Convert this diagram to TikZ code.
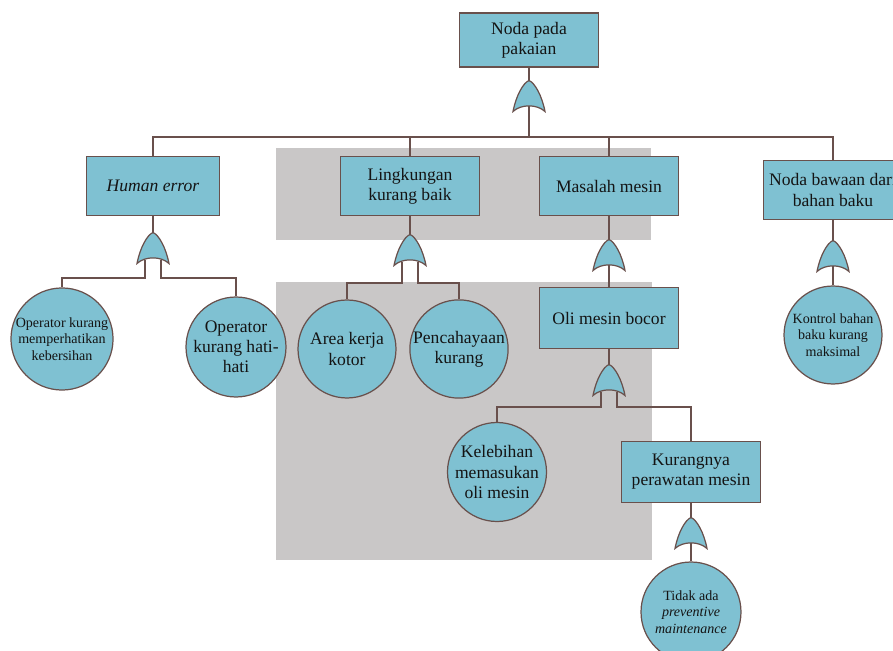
\documentclass[tikz,border=0pt]{standalone}
\usepackage{fontspec}
\setmainfont{Liberation Serif}
\usetikzlibrary{positioning}
\definecolor{ftfill}{RGB}{127,193,210}
\definecolor{ftline}{RGB}{105,80,76}
\definecolor{ftink}{RGB}{20,20,20}
\definecolor{wmgray}{RGB}{201,199,199}
\tikzset{
  event/.style={
    draw=ftline,
    fill=ftfill,
    line width=0.7pt,
    align=center,
    minimum width=2.78cm,
    minimum height=1.18cm,
    inner sep=2pt,
    font=\fontsize{10}{11.5}\selectfont,
    text=ftink
  },
  basic/.style={
    circle,
    draw=ftline,
    fill=ftfill,
    line width=0.7pt,
    align=center,
    minimum size=1.96cm,
    inner sep=0pt,
    font=\fontsize{10}{11.5}\selectfont,
    text=ftink
  },
  smallbasic/.style={basic, font=\fontsize{8}{9.5}\selectfont},
  link/.style={draw=ftline, line width=0.6pt},
  orgate/.pic={
    \path[draw=ftline, fill=ftfill, line width=0.7pt]
      (-16,15.5) .. controls (-13,0) and (-6,-13) .. (0,-15.5)
      .. controls (6,-13) and (13,0) .. (16,15.5)
      .. controls (8,8) and (-8,8) .. cycle;
    \coordinate (-in) at (0,-15.5);
    \coordinate (-out) at (0,10);
    \coordinate (-l) at (-8,12);
    \coordinate (-r) at (8,12);
  }
}

\begin{document}
\begin{tikzpicture}[x=0.02cm, y=-0.02cm]
  \useasboundingbox (0,0) rectangle (893,651);
  \fill[wmgray] (276,148) rectangle (651,240);
  \fill[wmgray] (276,282) rectangle (652,560);

  \node[event, minimum height=1.08cm] (top) at (529,40) {Noda pada\\pakaian};
  \node[event, minimum width=2.66cm] (human) at (153,186) {\textit{Human error}};
  \node[event] (ling) at (410,186) {Lingkungan\\kurang baik};
  \node[event] (mesin) at (609,186) {Masalah mesin};
  \node[event] (bahan) at (833,190) {Noda bawaan dari\\bahan baku};
  \node[event, minimum height=1.22cm] (oli) at (609,318) {Oli mesin bocor};
  \node[event, minimum height=1.22cm] (rawat) at (691,472) {Kurangnya\\perawatan mesin};

  \node[smallbasic] (bersih) at (62,339) {Operator kurang\\memperhatikan\\kebersihan};
  \node[basic, minimum size=2cm] (hati) at (236,347) {Operator\\kurang hati-\\hati};
  \node[basic] (area) at (347,349) {Area kerja\\kotor};
  \node[basic] (cahaya) at (459,349) {Pencahayaan\\kurang};
  \node[basic] (lebih) at (497,472) {Kelebihan\\memasukan\\oli mesin};
  \node[smallbasic] (kontrol) at (833,335) {Kontrol bahan\\baku kurang\\maksimal};
  \node[smallbasic, minimum size=2cm] (pm) at (691,612) {Tidak ada\\\textit{preventive}\\\textit{maintenance}};

  \coordinate (bus) at (529,137);
  \pic (g0) at (529,96) {orgate};
  \pic (g1) at (153,248) {orgate};
  \pic (g2) at (410,250) {orgate};
  \pic (g3) at (609,255) {orgate};
  \pic (g4) at (609,380) {orgate};
  \pic (g5) at (691,533) {orgate};
  \pic (g6) at (833,256) {orgate};

  \draw[link] (top.south) -- (g0-in);
  \draw[link] (g0-out) -- (bus);
  \draw[link] (human.north) |- (bus) -| (bahan.north);
  \draw[link] (ling.north) -- (ling.north |- bus);
  \draw[link] (mesin.north) -- (mesin.north |- bus);

  \draw[link] (human.south) -- (g1-in);
  \draw[link] (g1-l) -- ++(0,18) -| (bersih.north);
  \draw[link] (g1-r) -- ++(0,18) -| (hati.north);

  \draw[link] (ling.south) -- (g2-in);
  \draw[link] (g2-l) -- ++(0,21) -| (area.north);
  \draw[link] (g2-r) -- ++(0,21) -| (cahaya.north);

  \draw[link] (mesin.south) -- (g3-in);
  \draw[link] (g3-out) -- (oli.north);

  \draw[link] (oli.south) -- (g4-in);
  \draw[link] (g4-l) -- ++(0,15) -| (lebih.north);
  \draw[link] (g4-r) -- ++(0,15) -| (rawat.north);

  \draw[link] (rawat.south) -- (g5-in);
  \draw[link] (g5-out) -- (pm.north);

  \draw[link] (bahan.south) -- (g6-in);
  \draw[link] (g6-out) -- (kontrol.north);
\end{tikzpicture}
\end{document}
